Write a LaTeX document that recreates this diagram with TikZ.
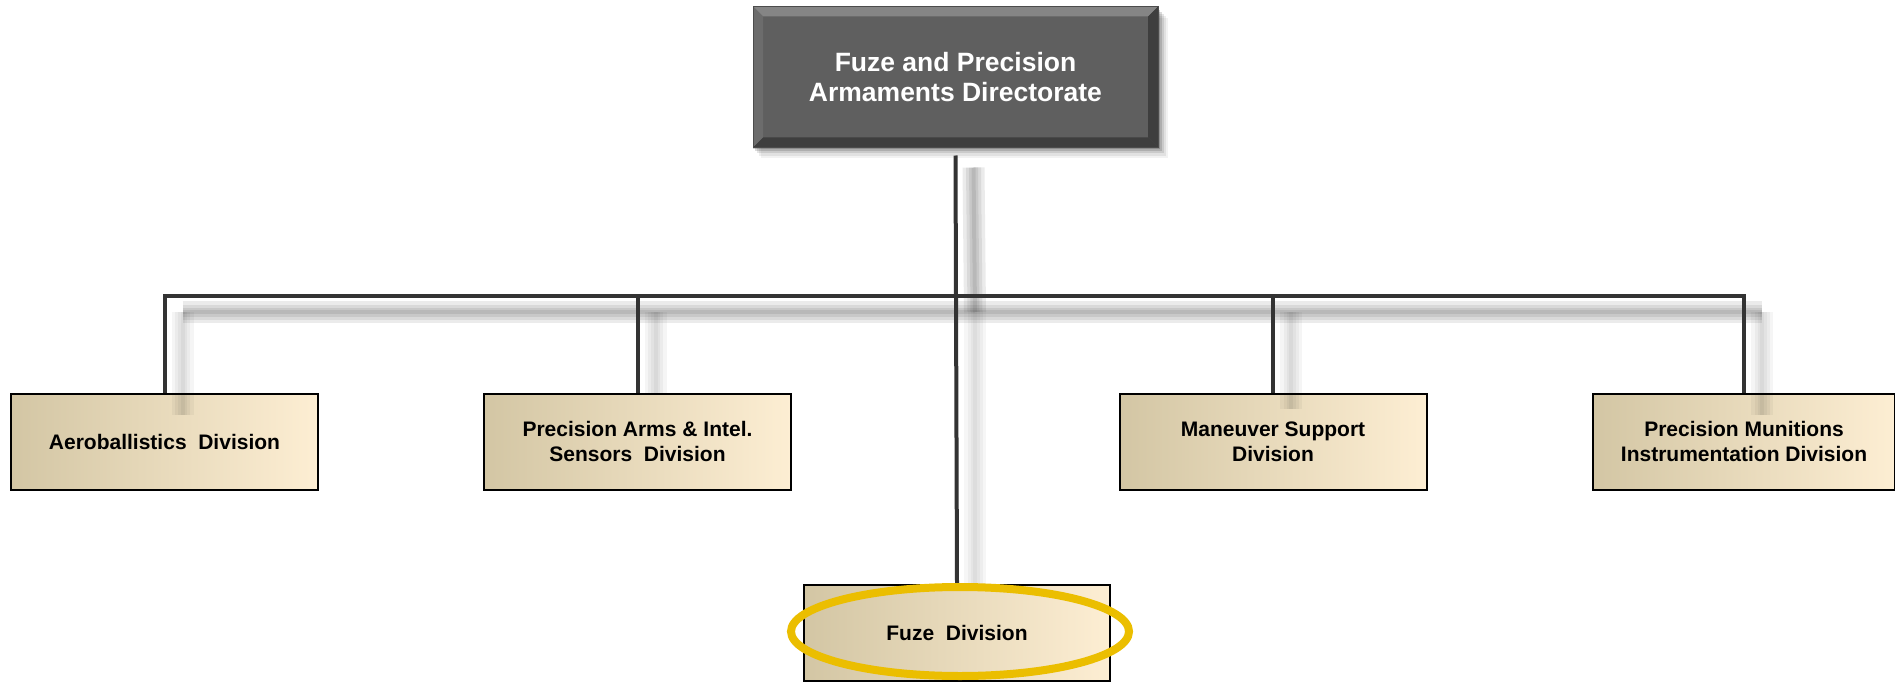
\documentclass[tikz,border=0pt]{standalone}
\usepackage{fontspec}
\setmainfont{Liberation Sans}
\usetikzlibrary{calc,backgrounds,shapes.geometric}
\definecolor{tanL}{HTML}{D3C6A4}
\definecolor{tanM}{HTML}{F0EAD8}
\definecolor{tanR}{HTML}{FDEED3}
\definecolor{topgray}{HTML}{5F5F5F}
\definecolor{bevlight}{HTML}{858585}
\definecolor{bevmid}{HTML}{6C6C6C}
\definecolor{bevdark}{HTML}{3E3E3E}
\definecolor{goldring}{HTML}{EBBE00}
\definecolor{linegray}{HTML}{333333}
\newcommand\softshadow[2]{%
  \foreach \w in {22,15,9,4}{\draw[line width=\w pt, black, opacity=#1, line cap=butt] #2;}}
\begin{document}
\begin{tikzpicture}[x=1pt,y=-1pt,
  divbox/.style={draw=black, line width=2pt, left color=tanL, middle color=tanM, right color=tanR,
    minimum width=307pt, minimum height=96pt, inner sep=0pt, align=center,
    font=\fontsize{21}{25}\selectfont\bfseries},
  topbox/.style={fill=topgray, draw=bevdark, line width=1pt, minimum width=404pt, minimum height=140pt,
    inner sep=0pt, align=center, text=white, font=\fontsize{26.5}{30}\selectfont\bfseries},
  conn/.style={draw=linegray, line width=4pt, line join=miter},
  ring/.style={ellipse, draw=goldring, line width=8pt, minimum width=338pt, minimum height=89pt}]
\useasboundingbox (0,0) rectangle (1895,682);

% nodes
\node[topbox] (dir) at (955.5,77) {Fuze and Precision\\Armaments Directorate};
\node[divbox] (aero) at (164.5,441.5) {Aeroballistics\ \ Division};
\node[divbox] (pais) at (637.5,441.5) {Precision Arms \& Intel.\\Sensors\ \ Division};
\node[divbox] (mane) at (1273,441.5) {Maneuver Support\\Division};
\node[divbox, minimum width=302pt] (pmid) at (1744,441.5) {Precision Munitions\\Instrumentation Division};
\node[divbox, minimum width=306pt] (fuze) at (957,633) {Fuze\ \ Division};

% top box bevel and shadow
\fill[bevlight] (dir.north west) -- (dir.north east) -- ($(dir.north east)+(-10,10)$) -- ($(dir.north west)+(10,10)$) -- cycle;
\fill[bevmid] (dir.north west) -- ($(dir.north west)+(10,10)$) -- ($(dir.south west)+(10,-10)$) -- (dir.south west) -- cycle;
\fill[bevdark] (dir.north east) -- ($(dir.north east)+(-10,10)$) -- ($(dir.south east)+(-10,-10)$) -- (dir.south east) -- cycle;
\fill[bevdark] (dir.south west) -- ($(dir.south west)+(10,-10)$) -- ($(dir.south east)+(-10,-10)$) -- (dir.south east) -- cycle;
\draw[black!70, line width=1pt] (dir.north west) rectangle (dir.south east);
\begin{scope}[on background layer]
  \foreach \d/\o in {2/0.18,4/0.14,6/0.10,8/0.07,10/0.05}{
    \fill[black, opacity=\o] ($(dir.north west)+(\d-2,\d+2)$) rectangle ($(dir.south east)+(\d,\d)$);}
\end{scope}

% connector coordinates
\coordinate (bus) at (957,296);
\coordinate (busL) at (aero.north |- bus);
\coordinate (busR) at (pmid.north |- bus);

% connector shadows
\softshadow{0.08}{($(dir.south)+(18,20)$) -- ($(bus)+(18,16)$)}
\softshadow{0.035}{($(bus)+(18,16)$) -- ($(fuze.north)+(18,0)$)}
\softshadow{0.08}{($(busL)+(18,16)$) -- ($(busR)+(18,16)$)}
\softshadow{0.04}{($(busL)+(18,16)$) -- ($(aero.north)+(18,22)$)}
\softshadow{0.04}{($(pais.north |- bus)+(18,16)$) -- ($(pais.north)+(18,0)$)}
\softshadow{0.04}{($(mane.north |- bus)+(18,16)$) -- ($(mane.north)+(18,16)$)}
\softshadow{0.04}{($(busR)+(18,16)$) -- ($(pmid.north)+(18,22)$)}

% connectors
\draw[conn] ($(dir.south)+(0,8)$) -- (fuze.north);
\draw[conn] (aero.north) |- (bus) -| (pmid.north);
\draw[conn] (pais.north) -- (pais.north |- bus);
\draw[conn] (mane.north) -- (mane.north |- bus);

% highlight ring
\node[ring] (hl) at ($(fuze.center)+(3,-1.5)$) {};
\end{tikzpicture}
\end{document}
